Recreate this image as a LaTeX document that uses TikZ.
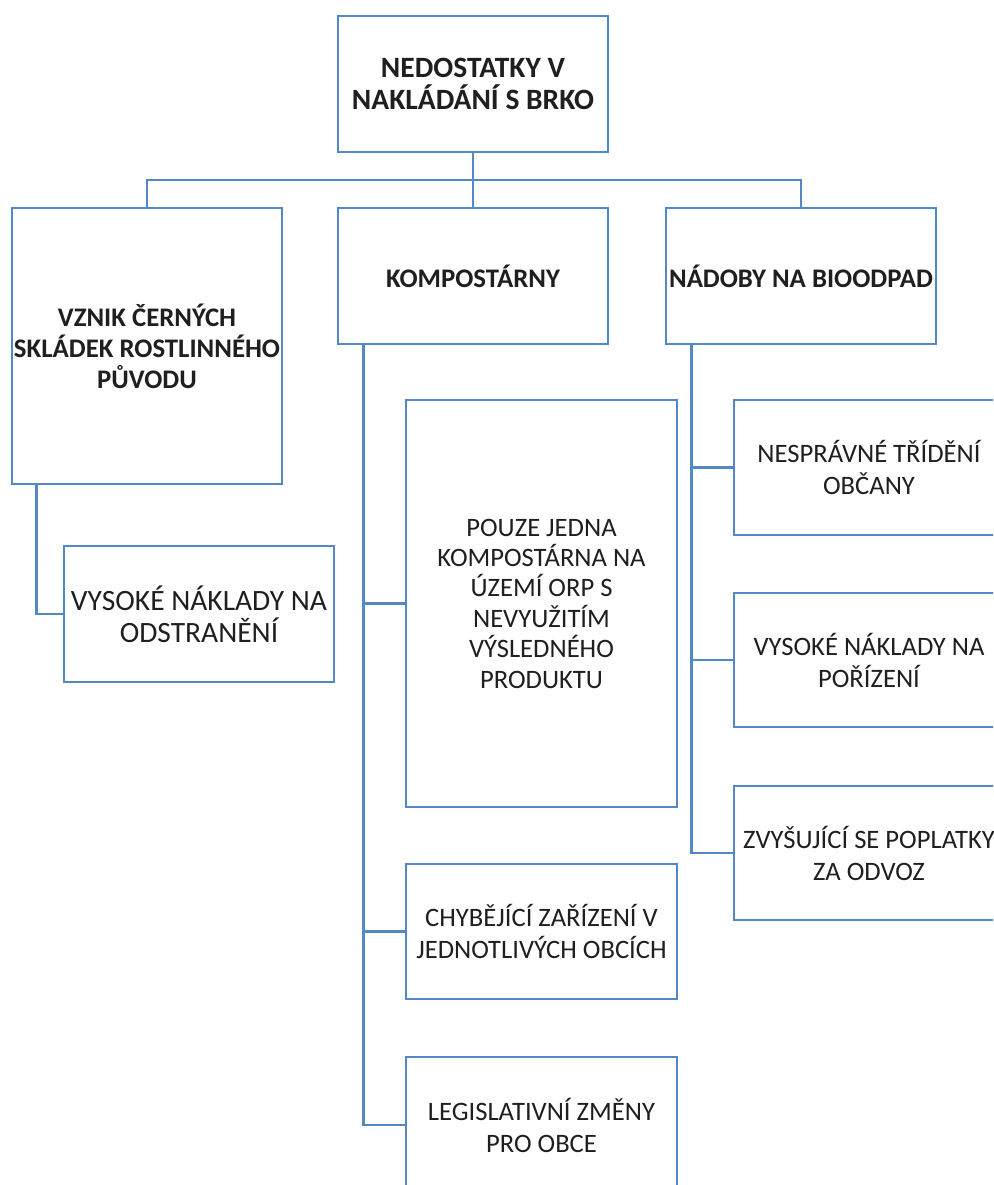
\documentclass[tikz,border=0pt]{standalone}
\usepackage{fontspec}
\setmainfont{Carlito}
\definecolor{boxblue}{RGB}{84,136,197}
\begin{document}
\begin{tikzpicture}[x=1pt,y=-1pt,
  box/.style={draw=boxblue,line width=2.7pt,fill=white,minimum width=270pt,align=center,inner sep=0pt,
    font=\fontsize{26.6}{32}\selectfont,text=black!88},
  hbox/.style={box,font=\fontsize{26.8}{31}\selectfont\bfseries},
  conn/.style={draw=boxblue,line width=2.7pt}]
\useasboundingbox (0,0) rectangle (993,1185);
\clip (0,0) rectangle (993,1185);
% level 0 and 1
\node[hbox,minimum height=136pt,font=\fontsize{29.5}{32}\selectfont\bfseries] (root) at (473,84) {NEDOSTATKY V\\NAKLÁDÁNÍ S BRKO};
\node[hbox,minimum height=276pt] (vznik) at (147,346) {VZNIK ČERNÝCH\\SKLÁDEK ROSTLINNÉHO\\PŮVODU};
\node[hbox,minimum height=136pt] (kompost) at (473,276) {KOMPOSTÁRNY};
\node[hbox,minimum height=136pt] (nadoby) at (801,276) {NÁDOBY NA BIOODPAD};
% children
\node[box,minimum height=136pt,font=\fontsize{29.5}{32}\selectfont] (odstr) at (199,614) {VYSOKÉ NÁKLADY NA\\ODSTRANĚNÍ};
\node[box,minimum height=407pt,minimum width=271pt,font=\fontsize{26.6}{30.4}\selectfont] (pouze) at (541.5,603.5) {POUZE JEDNA\\KOMPOSTÁRNA NA\\ÚZEMÍ ORP S\\NEVYUŽITÍM\\VÝSLEDNÉHO\\PRODUKTU};
\node[box,minimum height=135pt,minimum width=271pt] (chyb) at (541.5,931.5) {CHYBĚJÍCÍ ZAŘÍZENÍ V\\JEDNOTLIVÝCH OBCÍCH};
\node[box,minimum height=136pt,minimum width=271pt] (legis) at (541.5,1125) {LEGISLATIVNÍ ZMĚNY\\PRO OBCE};
\node[box,minimum height=135pt] (nespr) at (869,467.5) {NESPRÁVNÉ TŘÍDĚNÍ\\OBČANY};
\node[box,minimum height=134pt] (porizeni) at (869,660) {VYSOKÉ NÁKLADY NA\\POŘÍZENÍ};
\node[box,minimum height=134pt] (zvys) at (869,853) {ZVYŠUJÍCÍ SE POPLATKY\\ZA ODVOZ};
% connectors
\coordinate (bus) at (0,180);
\draw[conn] (root.south) -- (kompost.north);
\draw[conn] (vznik.north) -- (vznik.north |- bus) -- (nadoby.north |- bus) -- (nadoby.north);
\coordinate (ls) at ([xshift=26pt]vznik.south west);
\draw[conn] (ls) |- (odstr.west);
\coordinate (ms) at ([xshift=27pt]kompost.south west);
\draw[conn] (ms) |- (legis.west);
\draw[conn] (ms |- pouze.west) -- (pouze.west);
\draw[conn] (ms |- chyb.west) -- (chyb.west);
\coordinate (rs) at ([xshift=27pt]nadoby.south west);
\draw[conn] (rs) |- (zvys.west);
\draw[conn] (rs |- nespr.west) -- (nespr.west);
\draw[conn] (rs |- porizeni.west) -- (porizeni.west);
\end{tikzpicture}
\end{document}
